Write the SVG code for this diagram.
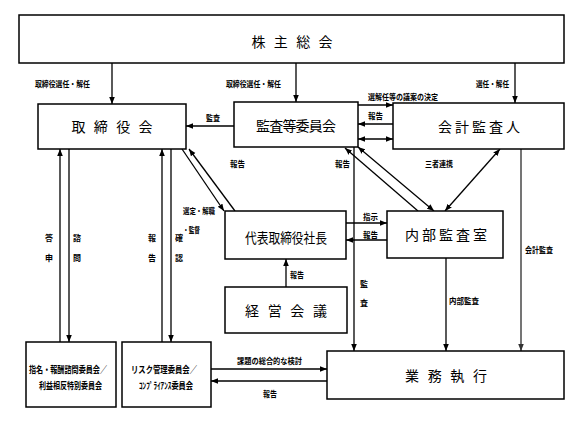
<svg xmlns="http://www.w3.org/2000/svg" width="588" height="423" viewBox="0 0 588 423">
<style>
.box{fill:#fff;stroke:#000;stroke-width:1.5}
.bt{font-family:"Noto Sans CJK JP",sans-serif;font-size:14px;fill:#000;text-anchor:middle}
.st{font-family:"Noto Sans CJK JP",sans-serif;font-size:9.5px;fill:#000;font-weight:bold}
.lb{font-family:"Noto Sans CJK JP",sans-serif;font-size:8px;fill:#000;font-weight:bold}
.ln{stroke:#000;stroke-width:1.3;fill:none}
.gr{stroke:#666;stroke-width:1.8;fill:none}
</style>
<defs>
<marker id="ah" viewBox="0 0 10 10" refX="10" refY="5" markerWidth="7" markerHeight="7" orient="auto-start-reverse" markerUnits="userSpaceOnUse">
<path d="M0,1 L10,5 L0,9 z" fill="#000"/>
</marker>
<marker id="ahg" viewBox="0 0 10 10" refX="10" refY="5" markerWidth="7" markerHeight="7" orient="auto-start-reverse" markerUnits="userSpaceOnUse">
<path d="M0,1 L10,5 L0,9 z" fill="#333"/>
</marker>
</defs>
<rect width="588" height="423" fill="#fff"/>
<g id="connectors">
<line class="ln" x1="112" y1="63" x2="112" y2="104" marker-end="url(#ah)"/>
<line class="ln" x1="296" y1="63" x2="296" y2="102" marker-end="url(#ah)"/>
<line class="ln" x1="515" y1="63" x2="515" y2="103" marker-end="url(#ah)"/>
<line class="ln" x1="234" y1="126" x2="186" y2="126" marker-end="url(#ah)"/>
<line class="ln" x1="358" y1="105" x2="393" y2="105" marker-end="url(#ah)"/>
<line class="ln" x1="393" y1="124" x2="358" y2="124" marker-end="url(#ah)"/>
<line class="ln" x1="358" y1="139" x2="393" y2="139" marker-start="url(#ah)" marker-end="url(#ah)"/>
<line class="ln" x1="182" y1="149" x2="224" y2="211" marker-end="url(#ah)"/>
<line class="ln" x1="235" y1="211" x2="189" y2="149" marker-end="url(#ah)"/>
<line class="ln" x1="418" y1="211" x2="345" y2="148" marker-end="url(#ah)"/>
<line class="ln" x1="358" y1="147" x2="434" y2="211" marker-start="url(#ah)" marker-end="url(#ah)"/>
<line class="ln" x1="500" y1="149" x2="445" y2="211" marker-start="url(#ah)" marker-end="url(#ah)"/>
<line class="ln" x1="354" y1="147" x2="354" y2="351" marker-end="url(#ah)"/>
<line class="ln" x1="346" y1="223" x2="387" y2="223" marker-end="url(#ah)"/>
<line class="ln" x1="387" y1="240" x2="346" y2="240" marker-end="url(#ah)"/>
<line class="ln" x1="286" y1="287" x2="286" y2="259" marker-end="url(#ah)"/>
<line class="ln" x1="446" y1="258" x2="446" y2="351" marker-end="url(#ah)"/>
<line class="gr" x1="521" y1="149" x2="521" y2="351" marker-end="url(#ahg)"/>
<line class="ln" x1="69" y1="149" x2="69" y2="342" marker-end="url(#ah)"/>
<line class="ln" x1="60" y1="342" x2="60" y2="149" marker-end="url(#ah)"/>
<line class="ln" x1="171" y1="149" x2="171" y2="342" marker-end="url(#ah)"/>
<line class="ln" x1="162" y1="342" x2="162" y2="149" marker-end="url(#ah)"/>
<line class="ln" x1="211" y1="369" x2="327" y2="369" marker-end="url(#ah)"/>
<line class="ln" x1="327" y1="381" x2="211" y2="381" marker-end="url(#ah)"/>
</g>
<g id="labels">
<text class="lb" x="35" y="87" textLength="55" lengthAdjust="spacingAndGlyphs">取締役選任・解任</text>
<text class="lb" x="226" y="87" textLength="55" lengthAdjust="spacingAndGlyphs">取締役選任・解任</text>
<text class="lb" x="476" y="87" textLength="33" lengthAdjust="spacingAndGlyphs">選任・解任</text>
<text class="lb" x="206" y="121" textLength="14" lengthAdjust="spacingAndGlyphs">監査</text>
<text class="lb" x="368" y="100" textLength="70" lengthAdjust="spacingAndGlyphs">選解任等の議案の決定</text>
<text class="lb" x="368" y="119" textLength="15" lengthAdjust="spacingAndGlyphs">報告</text>
<text class="lb" x="230" y="167" textLength="15" lengthAdjust="spacingAndGlyphs">報告</text>
<text class="lb" x="335" y="167" textLength="15" lengthAdjust="spacingAndGlyphs">報告</text>
<text class="lb" x="425" y="167" textLength="28" lengthAdjust="spacingAndGlyphs">三者連携</text>
<text class="lb" x="183" y="214" textLength="32" lengthAdjust="spacingAndGlyphs">選定・解職</text>
<text class="lb" x="183" y="233" textLength="17" lengthAdjust="spacingAndGlyphs">・監督</text>
<text class="lb" x="363" y="220" textLength="15" lengthAdjust="spacingAndGlyphs">指示</text>
<text class="lb" x="363" y="238" textLength="15" lengthAdjust="spacingAndGlyphs">報告</text>
<text class="lb" x="290" y="278" textLength="14" lengthAdjust="spacingAndGlyphs">報告</text>
<text class="lb" x="360" y="287">監</text>
<text class="lb" x="360" y="306">査</text>
<text class="lb" x="525" y="253" textLength="28" lengthAdjust="spacingAndGlyphs">会計監査</text>
<text class="lb" x="449" y="304" textLength="30" lengthAdjust="spacingAndGlyphs">内部監査</text>
<text class="lb" x="45" y="241">答</text>
<text class="lb" x="45" y="261">申</text>
<text class="lb" x="73" y="241">諮</text>
<text class="lb" x="73" y="261">問</text>
<text class="lb" x="148" y="241">報</text>
<text class="lb" x="148" y="261">告</text>
<text class="lb" x="175" y="241">確</text>
<text class="lb" x="175" y="261">認</text>
<text class="lb" x="237" y="364" textLength="65" lengthAdjust="spacingAndGlyphs">課題の総合的な検討</text>
<text class="lb" x="263" y="397" textLength="14" lengthAdjust="spacingAndGlyphs">報告</text>
</g>
<g id="shareholders">
<rect class="box" x="19" y="15" width="545" height="48"/>
<text class="bt" x="292" y="47" textLength="81" lengthAdjust="spacing">株主総会</text>
</g>
<g id="board">
<rect class="box" x="38" y="104" width="148" height="45"/>
<text class="bt" x="112" y="132" textLength="81" lengthAdjust="spacing">取締役会</text>
</g>
<g id="audit-committee">
<rect class="box" x="234" y="102" width="124" height="45"/>
<text class="bt" x="296" y="131" textLength="80" lengthAdjust="spacing">監査等委員会</text>
</g>
<g id="accounting-auditor">
<rect class="box" x="393" y="103" width="171" height="46"/>
<text class="bt" x="479" y="132" textLength="82" lengthAdjust="spacing">会計監査人</text>
</g>
<g id="president">
<rect class="box" x="225" y="211" width="121" height="48"/>
<text class="bt" x="286" y="243" textLength="82" lengthAdjust="spacingAndGlyphs">代表取締役社長</text>
</g>
<g id="management-meeting">
<rect class="box" x="225" y="287" width="122" height="46"/>
<text class="bt" x="286" y="316" textLength="82" lengthAdjust="spacing">経営会議</text>
</g>
<g id="internal-audit">
<rect class="box" x="387" y="211" width="116" height="47"/>
<text class="bt" x="446" y="240" textLength="82" lengthAdjust="spacing">内部監査室</text>
</g>
<g id="operations">
<rect class="box" x="327" y="351" width="237" height="48"/>
<text class="bt" x="446" y="381" textLength="82" lengthAdjust="spacing">業務執行</text>
</g>
<g id="nomination-committee">
<rect class="box" x="26" y="342" width="90" height="65"/>
<text class="st" x="29" y="373" textLength="78" lengthAdjust="spacingAndGlyphs">指名・報酬諮問委員会／</text>
<text class="st" x="39" y="389" textLength="63" lengthAdjust="spacingAndGlyphs">利益相反特別委員会</text>
</g>
<g id="risk-committee">
<rect class="box" x="122" y="342" width="89" height="65"/>
<text class="st" x="131" y="373" textLength="66" lengthAdjust="spacingAndGlyphs">リスク管理委員会／</text>
<text class="st" x="139" y="389" textLength="54" lengthAdjust="spacingAndGlyphs">ｺﾝﾌﾟﾗｲｱﾝｽ委員会</text>
</g>
</svg>
